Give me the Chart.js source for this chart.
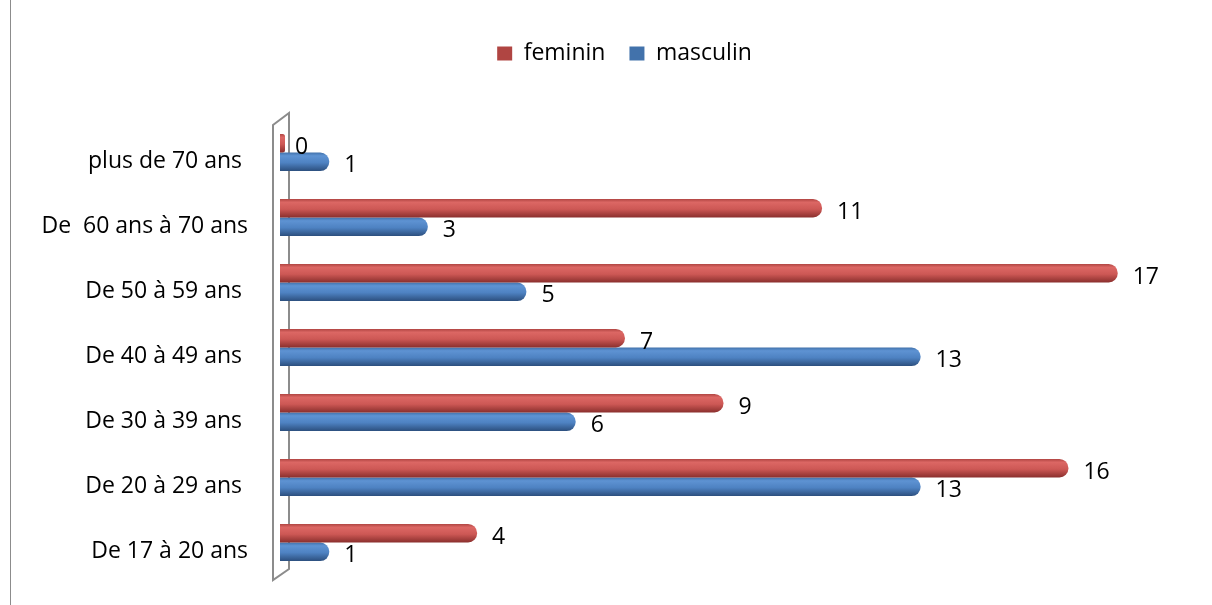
<!DOCTYPE html>
<html>
<head>
<meta charset="utf-8">
<script src="https://cdn.jsdelivr.net/npm/chart.js@4.4.1/dist/chart.umd.min.js"></script>
<style>
  html, body { margin: 0; padding: 0; background: #fff; }
  #wrap { position: relative; width: 1212px; height: 605px; }
  #frame { position: absolute; left: 10px; top: 0; width: 0; height: 605px; border-left: 1px solid #8c8c8c; }
</style>
</head>
<body>
<div id="wrap">
  <div id="frame"></div>
  <canvas id="chart" width="1212" height="605"></canvas>
</div>
<script>
// age groups, top to bottom as in the picture
const ageGroups = [
    'plus de 70 ans ',
    'De  60 ans à 70 ans',
    'De 50 à 59 ans ',
    'De 40 à 49 ans ',
    'De 30 à 39 ans ',
    'De 20 à 29 ans ',
    'De 17 à 20 ans'
];
const feminin = [0, 11, 17, 7, 9, 16, 4];
const masculin = [1, 3, 5, 13, 6, 13, 1];
const seriesNames = ['feminin', 'masculin'];

const CAT_PCT = 0.57;
const FONT = 'Open Sans';

// cylinder look: vertical gradient across each bar
const shades = {
    red: { flat: '#b44845', stops: ['#b04542', '#dc6764', '#cd5855', '#8a2f2d'] },
    blue: { flat: '#4675ae', stops: ['#4272ab', '#5e93d3', '#4e82c2', '#2c4f7e'] }
};

function barFill(shade) {
    return function(context) {
        if (context.type !== 'data') return shade.flat;
        const chart = context.chart;
        const y = chart.scales.y;
        if (!y || !chart.chartArea) return shade.flat;
        const step = y.getPixelForValue(1) - y.getPixelForValue(0);
        const thick = step * CAT_PCT / 2;
        const center = y.getPixelForValue(context.dataIndex);
        const top = context.datasetIndex === 0 ? center - thick : center;
        const g = chart.ctx.createLinearGradient(0, top, 0, top + thick);
        g.addColorStop(0, shade.stops[0]);
        g.addColorStop(0.18, shade.stops[1]);
        g.addColorStop(0.55, shade.stops[2]);
        g.addColorStop(1, shade.stops[3]);
        return g;
    };
}

// legend sits a bit right of the canvas centre in the original
const legendShift = {
    id: 'legendShift',
    afterLayout(chart) {
        chart.legend.left += 21;
        chart.legend.right += 21;
    }
};

// thin 3D wall on the left of the bars
const wallPlugin = {
    id: 'wall',
    beforeDatasetsDraw(chart) {
        const { ctx, chartArea } = chart;
        const l = chartArea.left, t = chartArea.top, b = chartArea.bottom;
        ctx.save();
        ctx.strokeStyle = '#8c8c8c';
        ctx.lineWidth = 2;
        ctx.beginPath();
        ctx.moveTo(l + 9, t - 7);
        ctx.lineTo(l + 9, b - 6);
        ctx.lineTo(l - 7, b + 5);
        ctx.lineTo(l - 7, t + 5);
        ctx.closePath();
        ctx.stroke();
        ctx.restore();
    }
};

// value labels to the right of each bar
const valueLabels = {
    id: 'valueLabels',
    afterDatasetsDraw(chart) {
        const { ctx } = chart;
        const x = chart.scales.x;
        ctx.save();
        ctx.font = '23px "' + FONT + '"';
        ctx.fillStyle = '#000';
        ctx.textAlign = 'left';
        ctx.textBaseline = 'middle';
        chart.data.datasets.forEach((ds, i) => {
            chart.getDatasetMeta(i).data.forEach((el, j) => {
                const v = ds.data[j];
                ctx.fillText(String(v), x.getPixelForValue(v) + 15, el.y + 4);
            });
        });
        ctx.restore();
    }
};

const ctx = document.getElementById('chart');
new Chart(ctx, {
    type: 'bar',
    data: {
        labels: ageGroups,
        datasets: [
            {
                label: seriesNames[0],
                data: feminin,
                backgroundColor: barFill(shades.red),
                borderRadius: 9,
                borderSkipped: 'start',
                minBarLength: 5
            },
            {
                label: seriesNames[1],
                data: masculin,
                backgroundColor: barFill(shades.blue),
                borderRadius: 9,
                borderSkipped: 'start',
                minBarLength: 5
            }
        ]
    },
    options: {
        indexAxis: 'y',
        responsive: false,
        animation: false,
        categoryPercentage: CAT_PCT,
        barPercentage: 1,
        layout: { padding: { left: 40, right: 45, top: 18, bottom: 30 } },
        scales: {
            x: {
                position: 'top',
                min: 0,
                max: 18,
                grid: { display: false, drawTicks: false },
                border: { display: false },
                ticks: { display: false },
                afterFit(scale) { scale.height = 45; }
            },
            y: {
                grid: { display: false, drawTicks: false },
                border: { display: false },
                ticks: {
                    color: '#000',
                    font: { family: FONT, size: 23 },
                    padding: 32,
                    labelOffset: 9
                },
                afterFit(scale) {
                    scale.width = 240;
                    scale.paddingTop = 0;
                    scale.paddingBottom = 0;
                }
            }
        },
        plugins: {
            legend: {
                position: 'top',
                labels: {
                    color: '#000',
                    font: { family: FONT, size: 23 },
                    boxWidth: 15,
                    boxHeight: 14,
                    padding: 24
                }
            },
            tooltip: { enabled: false }
        }
    },
    plugins: [legendShift, wallPlugin, valueLabels]
});
</script>
</body>
</html>
